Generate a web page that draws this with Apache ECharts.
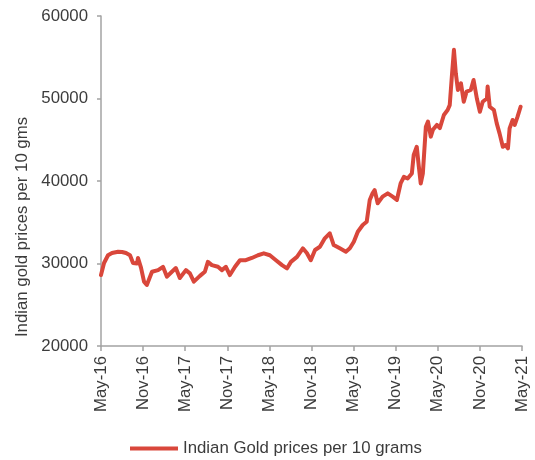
<!DOCTYPE html>
<html>
<head>
<meta charset="utf-8">
<script src="https://cdn.jsdelivr.net/npm/echarts@6/dist/echarts.min.js"></script>
<style>html,body{margin:0;padding:0;background:#fff}#c{width:535px;height:460px}</style>
</head>
<body>
<div id="c"></div>
<script>
// Traced observations (date, price per 10 grams)
const dates = [
  "2016-05-01","2016-05-14","2016-06-01","2016-06-18","2016-07-14","2016-08-01","2016-08-18","2016-09-05",
  "2016-09-18","2016-10-05","2016-10-09","2016-10-22","2016-11-05","2016-11-17","2016-12-09","2017-01-05",
  "2017-01-26","2017-02-13","2017-03-04","2017-03-21","2017-04-08","2017-05-04","2017-05-21","2017-06-08",
  "2017-07-04","2017-07-25","2017-08-08","2017-08-25","2017-09-21","2017-10-08","2017-10-25","2017-11-12",
  "2017-12-04","2017-12-25","2018-01-20","2018-02-16","2018-03-12","2018-04-07","2018-05-03","2018-05-29",
  "2018-06-25","2018-07-16","2018-08-03","2018-08-29","2018-09-24","2018-10-11","2018-10-28","2018-11-16",
  "2018-12-07","2018-12-28","2019-01-19","2019-02-06","2019-03-02","2019-03-28","2019-04-15","2019-05-02",
  "2019-05-19","2019-06-10","2019-06-27","2019-07-10","2019-07-22","2019-08-01","2019-08-14","2019-09-05",
  "2019-09-27","2019-10-18","2019-11-06","2019-11-22","2019-12-06","2019-12-22","2020-01-10","2020-01-18",
  "2020-02-01","2020-02-10","2020-02-18","2020-02-27","2020-03-10","2020-03-19","2020-04-01","2020-04-10",
  "2020-04-27","2020-05-10","2020-05-27","2020-06-13","2020-06-22","2020-07-01","2020-07-10","2020-07-18",
  "2020-07-27","2020-08-10","2020-08-22","2020-09-04","2020-09-22","2020-10-04","2020-10-18","2020-11-01",
  "2020-11-13","2020-12-01","2020-12-04","2020-12-13","2021-01-01","2021-01-13","2021-01-25","2021-02-09",
  "2021-02-21","2021-03-01","2021-03-08","2021-03-21","2021-03-30","2021-04-12","2021-04-25"
];
const prices = [
  28600,30060,31000,31270,31430,31400,31270,31000,
  30060,30000,30670,29500,27800,27400,29000,29200,
  29600,28400,29000,29450,28240,29200,28800,27800,
  28500,29000,30200,29800,29600,29200,29600,28600,
  29600,30400,30400,30670,31000,31230,31000,30400,
  29800,29400,30200,30800,31840,31270,30400,31640,
  32030,33050,33660,32240,31840,31430,31840,32640,
  33850,34670,35060,37700,38500,38900,37300,38100,
  38500,38100,37700,39700,40500,40300,40900,43150,
  44150,41730,39700,40900,46580,47200,45380,46200,
  46800,46420,48000,48600,49200,52650,55900,53050,
  51030,51840,49600,50830,51030,52240,50000,48400,
  49600,50000,51450,49000,48600,46980,45770,44150,
  44360,43960,46380,47400,46800,47800,49000
];
const xTickLabels = ["May-16","Nov-16","May-17","Nov-17","May-18","Nov-18","May-19","Nov-19","May-20","Nov-20","May-21"];
const seriesName = "Indian Gold prices per 10 grams";
const yAxisTitle = "Indian gold prices per 10 gms";

// months elapsed since May-2016
function monthIndex(s){
  const [y,m,d] = s.split("-").map(Number);
  return (y-2016)*12 + (m-5) + (d-1)/30;
}
const seriesData = dates.map((d,i)=>[monthIndex(d), prices[i]]);

const txt = "#3c3c3c";
const axisCol = "#a3a3a3";
const font = "Liberation Sans, Arial, sans-serif";
const chart = echarts.init(document.getElementById("c"), null, {renderer:"canvas"});
chart.setOption({
  animation:false,
  backgroundColor:"#fff",
  grid:{left:101,right:13,top:16,bottom:114,containLabel:false},
  xAxis:{
    type:"value",min:0,max:60,interval:6,
    axisLine:{show:true,lineStyle:{color:axisCol,width:1.5}},
    axisTick:{show:true,length:5,lineStyle:{color:axisCol,width:1.5}},
    splitLine:{show:false},
    axisLabel:{rotate:90,margin:10,color:txt,fontSize:16.8,fontFamily:font,
      formatter:v=>xTickLabels[Math.round(v/6)]}
  },
  yAxis:{
    type:"value",min:20000,max:60000,interval:10000,
    axisLine:{show:true,lineStyle:{color:axisCol,width:1.5}},
    axisTick:{show:true,length:4,lineStyle:{color:axisCol,width:1.5}},
    splitLine:{show:false},
    axisLabel:{margin:13,color:txt,fontSize:16.8,fontFamily:font,formatter:v=>String(v)}
  },
  legend:{
    left:130,top:440,padding:0,itemWidth:48,itemHeight:4,itemGap:20,
    textStyle:{color:txt,fontSize:16.8,fontFamily:font,padding:[0,0,0,0]},
    data:[{name:seriesName,icon:"rect"}]
  },
  graphic:[{
    type:"text",x:22,y:227,rotation:Math.PI/2,
    style:{text:yAxisTitle,fill:txt,fontSize:16.8,fontFamily:font,align:"center",verticalAlign:"middle"}
  }],
  series:[{
    name:seriesName,type:"line",data:seriesData,showSymbol:false,smooth:false,
    color:"#d9473b",
    lineStyle:{color:"#d9473b",width:4,join:"round",cap:"round"}
  }]
});
</script>
</body>
</html>
